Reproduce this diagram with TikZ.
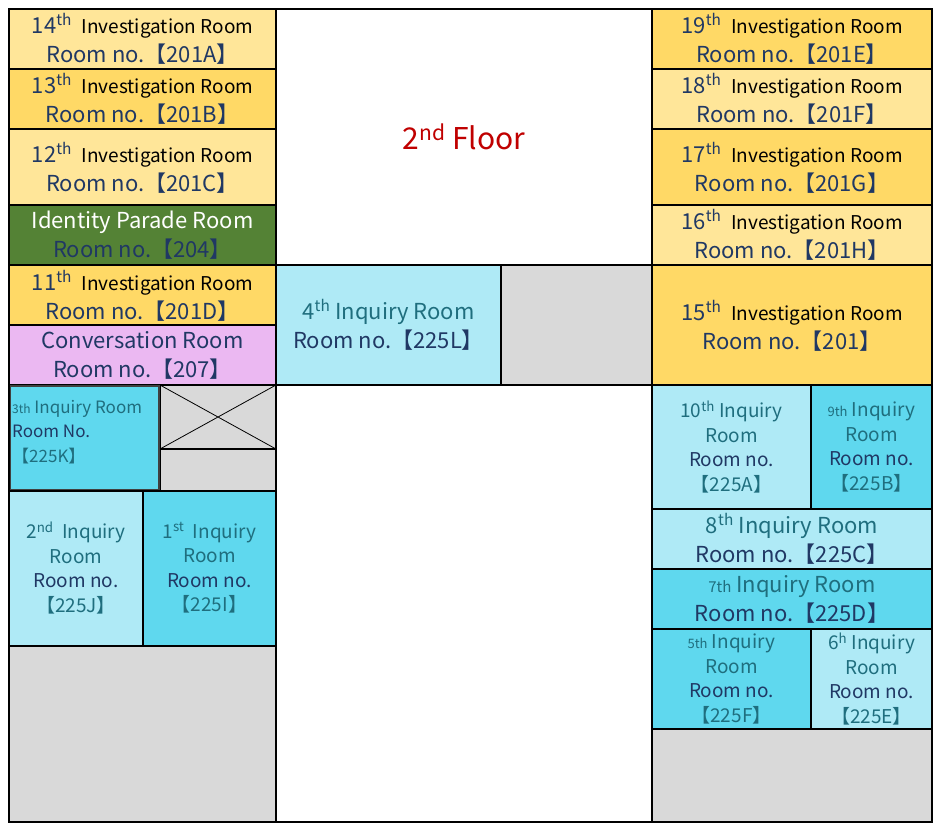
\documentclass[tikz,border=0pt]{standalone}
\usepackage{fontspec}
\setmainfont{Noto Sans CJK TC}
\definecolor{ly}{HTML}{FFE699}
\definecolor{dy}{HTML}{FFD966}
\definecolor{gr}{HTML}{548235}
\definecolor{pk}{HTML}{EBB8F2}
\definecolor{lc}{HTML}{AFEAF6}
\definecolor{dc}{HTML}{5FD8EE}
\definecolor{gy}{HTML}{D9D9D9}
\definecolor{nv}{HTML}{203864}
\definecolor{tl}{HTML}{1F6E7E}
\definecolor{rd}{HTML}{C00000}
\newcommand{\sps}[1]{\textsuperscript{#1}}
\begin{document}
\begin{tikzpicture}[x=1pt,y=-1pt,
  rb/.style={draw=black,line width=1.2pt},
  lab/.style={align=center,inner sep=0pt,font=\fontsize{22}{29}\selectfont,text=nv},
  sm/.style={align=center,inner sep=0pt,font=\fontsize{19}{24.5}\selectfont,text=nv}]
\useasboundingbox (0,0) rectangle (934,823);
\fill[white] (0,0) rectangle (934,823);
% left column
\filldraw[rb,fill=ly] (9,9) rectangle (276,69);
\filldraw[rb,fill=dy] (9,69) rectangle (276,129);
\filldraw[rb,fill=ly] (9,129) rectangle (276,205);
\filldraw[rb,fill=gr] (9,205) rectangle (276,265);
\filldraw[rb,fill=dy] (9,265) rectangle (276,325);
\filldraw[rb,fill=pk] (9,325) rectangle (276,385);
\filldraw[rb,fill=gy] (160,385) rectangle (276,449);
\draw[line width=0.8pt] (160,385) -- (276,449) (160,449) -- (276,385);
\filldraw[rb,fill=gy] (160,449) rectangle (276,491);
\filldraw[draw=black!75,line width=2.5pt,fill=dc] (10,386) rectangle (159,490);
\filldraw[rb,fill=lc] (9,491) rectangle (143,646);
\filldraw[rb,fill=dc] (143,491) rectangle (276,646);
\filldraw[rb,fill=gy] (9,646) rectangle (276,822);
% middle
\draw[rb] (276,9) rectangle (652,265);
\filldraw[rb,fill=lc] (276,265) rectangle (501,385);
\filldraw[rb,fill=gy] (501,265) rectangle (652,385);
\draw[rb] (276,385) rectangle (652,822);
% right column
\filldraw[rb,fill=dy] (652,9) rectangle (932,69);
\filldraw[rb,fill=ly] (652,69) rectangle (932,129);
\filldraw[rb,fill=dy] (652,129) rectangle (932,205);
\filldraw[rb,fill=ly] (652,205) rectangle (932,265);
\filldraw[rb,fill=dy] (652,265) rectangle (932,385);
\filldraw[rb,fill=lc] (652,385) rectangle (811,509);
\filldraw[rb,fill=dc] (811,385) rectangle (932,509);
\filldraw[rb,fill=lc] (652,509) rectangle (932,569);
\filldraw[rb,fill=dc] (652,569) rectangle (932,629);
\filldraw[rb,fill=dc] (652,629) rectangle (811,729);
\filldraw[rb,fill=lc] (811,629) rectangle (932,729);
\filldraw[rb,fill=gy] (652,729) rectangle (932,822);
\draw[line width=1.5pt] (9,9) rectangle (932,822);
% labels
\newcommand{\inv}[2]{{\fontsize{22}{29}\selectfont #1\sps{#2}}\ \ {\color{black}\fontsize{19}{29}\selectfont Investigation Room}}
\node[lab] (r14) at (142.5,39) {\inv{14}{th}\\Room no.【201A】};
\node[lab] (r13) at (142.5,99) {\inv{13}{th}\\Room no.【201B】};
\node[lab] (r12) at (142.5,168) {\inv{12}{th}\\Room no.【201C】};
\node[lab] (rid) at (142.5,235) {{\color{white}Identity Parade Room}\\Room no.【204】};
\node[lab] (r11) at (142.5,296) {\inv{11}{th}\\Room no.【201D】};
\node[lab] (rcv) at (142.5,355) {Conversation Room\\Room no.【207】};
\node[align=left,inner sep=0pt,text=tl,font=\fontsize{17}{24.5}\selectfont,anchor=north west] (r3) at (12,400) {{\fontsize{12}{12}\selectfont 3th} Inquiry Room\\{\color{nv}Room No.}\\【225K】};
\node[sm,text=tl] (r2) at (76,568) {2\sps{nd}\ \ Inquiry\\Room\\{\color{nv}Room no.}\\【225J】};
\node[sm,text=tl] (r1) at (209.5,568) {1\sps{st}\ \ Inquiry\\Room\\{\color{nv}Room no.}\\【225I】};
\node[lab,text=rd,font=\fontsize{30}{36}\selectfont] (fl) at (464,137) {2\sps{nd} Floor};
\node[lab,text=tl] (r4) at (388.5,325) {4\sps{th} Inquiry Room\\{\color{nv}Room no.【225L】}};
\node[lab] (r19) at (792,39) {\inv{19}{th}\\Room no.【201E】};
\node[lab] (r18) at (792,99) {\inv{18}{th}\\Room no.【201F】};
\node[lab] (r17) at (792,168) {\inv{17}{th}\\Room no.【201G】};
\node[lab] (r16) at (792,235) {\inv{16}{th}\\Room no.【201H】};
\node[lab] (r15) at (792,326) {\inv{15}{th}\\Room no.【201】};
\node[sm,text=tl] (r10) at (731.5,447) {10\sps{th} Inquiry\\Room\\{\color{nv}Room no.}\\【225A】};
\node[sm,text=tl] (r9) at (871.5,447) {{\fontsize{13}{13}\selectfont 9th} Inquiry\\Room\\{\color{nv}Room no.}\\【225B】};
\node[lab,text=tl] (r8) at (792,539) {8\sps{th} Inquiry Room\\{\color{nv}Room no.【225C】}};
\node[lab,text=tl] (r7) at (792,599) {{\fontsize{15}{15}\selectfont 7th} Inquiry Room\\{\color{nv}Room no.【225D】}};
\node[sm,text=tl] (r5) at (731.5,679) {{\fontsize{13}{13}\selectfont 5th} Inquiry\\Room\\{\color{nv}Room no.}\\【225F】};
\node[sm,text=tl] (r6) at (871.5,679) {6\sps{h} Inquiry\\Room\\{\color{nv}Room no.}\\【225E】};
\end{tikzpicture}
\end{document}
